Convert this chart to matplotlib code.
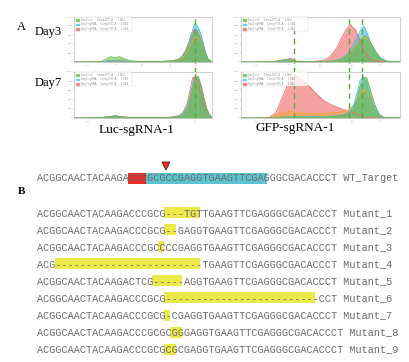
import matplotlib.pyplot as plt
from matplotlib.patches import Rectangle, Polygon

W, H = 410, 362

# ---- panel A: flow histograms (x = fraction of axis, y = normalised count)
x_luc3 = [0.0, 0.10, 0.20, 0.24, 0.27, 0.30, 0.33, 0.36, 0.40, 0.50, 0.60, 0.70, 0.75,
          0.78, 0.81, 0.83, 0.85, 0.87, 0.88, 0.89, 0.91, 0.93, 0.95, 0.97, 1.0]
luc3 = {
    'red':    [0, 0, 0, 0.02, 0.03, 0.03, 0.03, 0.02, 0.01, 0.01, 0.01, 0.02, 0.05,
               0.11, 0.26, 0.42, 0.60, 0.72, 0.73, 0.70, 0.58, 0.40, 0.21, 0.06, 0],
    'orange': [0, 0, 0, 0.02, 0.03, 0.03, 0.03, 0.02, 0.01, 0.01, 0.01, 0.02, 0.04,
               0.08, 0.17, 0.28, 0.40, 0.50, 0.54, 0.55, 0.50, 0.36, 0.20, 0.06, 0],
    'cyan':   [0, 0, 0, 0.02, 0.03, 0.03, 0.03, 0.02, 0.01, 0.01, 0.01, 0.02, 0.05,
               0.11, 0.25, 0.42, 0.62, 0.80, 0.85, 0.82, 0.70, 0.50, 0.25, 0.07, 0],
    'green':  [0, 0, 0.01, 0.08, 0.12, 0.09, 0.12, 0.08, 0.03, 0.01, 0.01, 0.02, 0.05,
               0.10, 0.22, 0.35, 0.52, 0.65, 0.69, 0.66, 0.55, 0.38, 0.20, 0.06, 0],
}
x_luc7 = [0.0, 0.10, 0.20, 0.26, 0.30, 0.34, 0.40, 0.50, 0.60, 0.70, 0.76, 0.79, 0.82,
          0.84, 0.86, 0.88, 0.90, 0.92, 0.94, 0.96, 0.98, 1.0]
luc7 = {
    'red':    [0, 0, 0.01, 0.03, 0.05, 0.03, 0.01, 0.01, 0.01, 0.02, 0.05, 0.12, 0.32,
               0.58, 0.88, 0.90, 0.75, 0.52, 0.30, 0.14, 0.04, 0.01],
    'orange': [0, 0, 0.01, 0.03, 0.04, 0.03, 0.01, 0.01, 0.01, 0.01, 0.03, 0.08, 0.20,
               0.40, 0.68, 0.86, 0.88, 0.72, 0.46, 0.22, 0.07, 0.02],
    'cyan':   [0, 0, 0.01, 0.02, 0.04, 0.03, 0.01, 0.01, 0.01, 0.01, 0.04, 0.09, 0.24,
               0.46, 0.76, 0.90, 0.88, 0.68, 0.40, 0.18, 0.05, 0.01],
    'green':  [0, 0, 0.01, 0.03, 0.05, 0.03, 0.01, 0.01, 0.01, 0.01, 0.03, 0.07, 0.18,
               0.35, 0.62, 0.88, 0.90, 0.72, 0.45, 0.22, 0.07, 0.02],
}
x_gfp3 = [0.0, 0.10, 0.20, 0.25, 0.28, 0.31, 0.35, 0.45, 0.52, 0.56, 0.60, 0.63, 0.66,
          0.68, 0.69, 0.70, 0.72, 0.74, 0.76, 0.77, 0.78, 0.80, 0.82, 0.85, 0.88, 0.92, 1.0]
gfp3 = {
    'red':    [0, 0, 0.01, 0.03, 0.05, 0.08, 0.02, 0.01, 0.04, 0.12, 0.30, 0.52, 0.72,
               0.80, 0.83, 0.78, 0.72, 0.55, 0.38, 0.28, 0.20, 0.10, 0.05, 0.02, 0.01, 0, 0],
    'orange': [0, 0, 0, 0.02, 0.03, 0.03, 0.01, 0, 0.01, 0.01, 0.03, 0.06, 0.12,
               0.18, 0.22, 0.27, 0.35, 0.45, 0.52, 0.55, 0.56, 0.50, 0.38, 0.20, 0.07, 0.01, 0],
    'cyan':   [0, 0, 0, 0.02, 0.03, 0.04, 0.01, 0.01, 0.01, 0.02, 0.04, 0.08, 0.15,
               0.22, 0.28, 0.35, 0.48, 0.62, 0.76, 0.80, 0.75, 0.58, 0.38, 0.18, 0.07, 0.01, 0],
    'green':  [0, 0, 0.01, 0.04, 0.06, 0.05, 0.01, 0.01, 0.01, 0.01, 0.03, 0.06, 0.12,
               0.17, 0.21, 0.25, 0.33, 0.43, 0.52, 0.57, 0.59, 0.53, 0.40, 0.22, 0.08, 0.02, 0],
}
x_gfp7 = [0.0, 0.10, 0.18, 0.22, 0.26, 0.30, 0.33, 0.35, 0.37, 0.40, 0.44, 0.48, 0.52,
          0.56, 0.60, 0.64, 0.68, 0.71, 0.73, 0.75, 0.77, 0.79, 0.81, 0.84, 0.87, 0.90, 1.0]
gfp7 = {
    'red':    [0, 0, 0.02, 0.12, 0.45, 0.78, 0.90, 0.91, 0.85, 0.78, 0.65, 0.50, 0.38,
               0.30, 0.24, 0.19, 0.15, 0.12, 0.08, 0.05, 0.03, 0.02, 0.01, 0, 0, 0, 0],
    'orange': [0, 0, 0.01, 0.06, 0.12, 0.14, 0.13, 0.12, 0.11, 0.10, 0.10, 0.10, 0.10,
               0.11, 0.12, 0.14, 0.18, 0.28, 0.40, 0.55, 0.62, 0.58, 0.42, 0.20, 0.06, 0.01, 0],
    'cyan':   [0, 0, 0, 0.01, 0.02, 0.03, 0.03, 0.03, 0.03, 0.03, 0.03, 0.03, 0.03,
               0.04, 0.05, 0.07, 0.12, 0.30, 0.55, 0.82, 0.90, 0.78, 0.50, 0.20, 0.05, 0.01, 0],
    'green':  [0, 0, 0, 0.01, 0.02, 0.02, 0.02, 0.02, 0.02, 0.02, 0.02, 0.02, 0.02,
               0.03, 0.04, 0.06, 0.10, 0.22, 0.42, 0.70, 0.86, 0.88, 0.65, 0.30, 0.08, 0.01, 0],
}
gate_luc = [0.877]
gate_gfp = [0.335, 0.68, 0.76]
legend_labels = ['Day3 ctrl      Comp-FITC-A      1.0E4',
                 'Day3 sgRNA     Comp-FITC-A      1.0E4',
                 'Day7 sgRNA     Comp-FITC-A      1.0E4']

colors = {'red': '#f06a6a', 'orange': '#f5a63c', 'cyan': '#45bfe6', 'green': '#6cbb45'}

# ---- panel B: sequences
wt_seq = "ACGGCAACTACAAGACCCGCGCCGAGGTGAAGTTCGAGGGCGACACCCT"
pam_span = (15, 18)
target_span = (18, 38)
cut_pos = 21.3
mutants = [
    "ACGGCAACTACAAGACCCGCG---TGTTGAAGTTCGAGGGCGACACCCT",
    "ACGGCAACTACAAGACCCGCG--GAGGTGAAGTTCGAGGGCGACACCCT",
    "ACGGCAACTACAAGACCCGCCCCGAGGTGAAGTTCGAGGGCGACACCCT",
    "ACG" + "-" * 24 + "TGAAGTTCGAGGGCGACACCCT",
    "ACGGCAACTACAAGACTCG-----AGGTGAAGTTCGAGGGCGACACCCT",
    "ACGGCAACTACAAGACCCGCG" + "-" * 25 + "CCT",
    "ACGGCAACTACAAGACCCGCG-CGAGGTGAAGTTCGAGGGCGACACCCT",
    "ACGGCAACTACAAGACCCGCGCGGGAGGTGAAGTTCGAGGGCGACACCCT",
    "ACGGCAACTACAAGACCCGCGCGCGAGGTGAAGTTCGAGGGCGACACCCT",
]
mut_spans = [(21, 27), (21, 23), (20, 21), (3, 27), (19, 24), (21, 46), (21, 22), (22, 24), (21, 23)]
mut_names = ['Mutant_%d' % (i + 1) for i in range(9)]

fig = plt.figure(figsize=(W / 100, H / 100), dpi=100)
bg = fig.add_axes([0, 0, 1, 1])
bg.set_xlim(0, W)
bg.set_ylim(H, 0)
bg.axis('off')


def px_axes(x0, y0, x1, y1):
    return fig.add_axes([x0 / W, 1 - y1 / H, (x1 - x0) / W, (y1 - y0) / H])


def hist_panel(rect, xs, curves):
    ax = px_axes(*rect)
    for name in ['red', 'orange', 'cyan', 'green']:
        ax.fill_between(xs, curves[name], color=colors[name], alpha=0.62, lw=0)
        ax.plot(xs, curves[name], color=colors[name], lw=0.6)
    ax.set_xlim(0, 1)
    ax.set_ylim(0, 1.0)
    for s in ax.spines.values():
        s.set_color('#c8c8c8')
        s.set_linewidth(0.6)
    ax.set_xticks([0.1, 0.3, 0.5, 0.7, 0.88])
    ax.set_xticklabels(['-10³', '0', '10³', '10⁴', '10⁵'])
    ax.set_yticks([0, 0.2, 0.4, 0.6, 0.8, 1.0])
    ax.set_yticklabels(['0', '200', '400', '600', '800', '1.0K'])
    ax.tick_params(labelsize=1.6, length=1, width=0.3, pad=0.5, colors='#888888')
    handles = [plt.Rectangle((0, 0), 1, 1, color=colors[c], alpha=0.7) for c in ['green', 'cyan', 'red']]
    leg = ax.legend(handles, legend_labels, loc='upper left', fontsize=1.8, frameon=True,
                    borderpad=0.2, handlelength=1.2, handleheight=0.7, labelspacing=0.15,
                    bbox_to_anchor=(0.01, 0.76, 0.41, 0.23), mode='expand', borderaxespad=0)
    leg.get_frame().set_linewidth(0.3)
    leg.get_frame().set_edgecolor('#cccccc')
    for t in leg.get_texts():
        t.set_color('#888888')
    return ax


ax_l3 = hist_panel((74, 17, 212, 62), x_luc3, luc3)
ax_l7 = hist_panel((74, 72, 212, 118), x_luc7, luc7)
ax_g3 = hist_panel((241, 17, 400, 62), x_gfp3, gfp3)
ax_g7 = hist_panel((241, 72, 400, 118), x_gfp7, gfp7)

dash = dict(color='#5aa83c', lw=1.0, ls=(0, (4, 3)))
for g in gate_luc:
    ax_l3.axvline(g, ymin=-0.24, ymax=1.0, clip_on=False, **dash)
    ax_l7.axvline(g, ymin=0, ymax=1.04, clip_on=False, **dash)
for g in gate_gfp:
    ax_g3.axvline(g, ymin=-0.24, ymax=1.0, clip_on=False, **dash)
    ax_g7.axvline(g, ymin=0, ymax=1.04, clip_on=False, **dash)

serif = 'Liberation Serif'
bg.text(17, 27, 'A', fontsize=9, family=serif, va='center')
bg.text(35, 32, 'Day3', fontsize=9, family=serif, va='center')
bg.text(35, 83, 'Day7', fontsize=9, family=serif, va='center')
bg.text(137, 130, 'Luc-sgRNA-1', fontsize=9.5, family=serif, ha='center', va='center')
bg.text(295, 128, 'GFP-sgRNA-1', fontsize=9.5, family=serif, ha='center', va='center')
bg.text(18, 192, 'B', fontsize=8, family=serif, weight='bold', va='center')

# sequence rows
x0, cw = 37.3, 6.04
mono = dict(family='Liberation Mono', fontsize=7.25, color='#6a6a6a', va='center')
hh = 11


def seq_row(y, seq, name, spans):
    for (a, b), col in spans:
        bg.add_patch(Rectangle((x0 + a * cw, y - hh / 2), (b - a) * cw, hh, color=col, lw=0))
    bg.text(x0, y, seq + ' ' + name, **mono)


y_wt = 178
seq_row(y_wt, wt_seq, 'WT_Target', [(pam_span, '#ea2a26'), (target_span, '#5cc4cf')])
tx = x0 + cut_pos * cw
bg.add_patch(Polygon([[tx - 4, y_wt - 16], [tx + 4, y_wt - 16], [tx, y_wt - 8]],
                     closed=True, facecolor='#e8322e', edgecolor='#5a1010', lw=0.6))

for i, (s, sp, nm) in enumerate(zip(mutants, mut_spans, mut_names)):
    seq_row(212.7 + i * 17.05, s, nm, [(sp, '#ecea4a')])

fig.savefig('out.png', dpi=100)
